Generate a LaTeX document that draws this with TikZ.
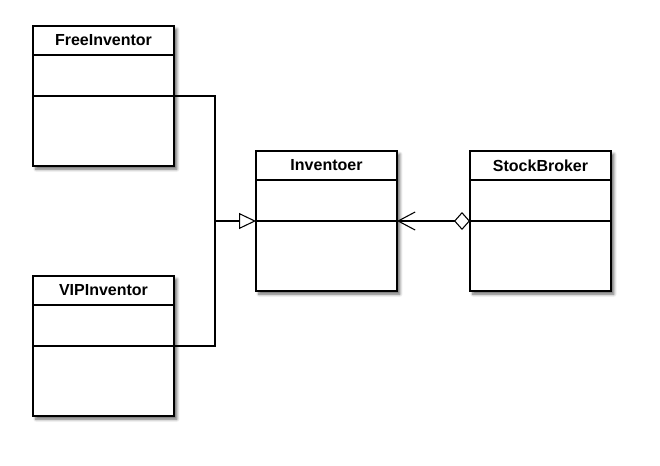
\documentclass[tikz,border=0pt]{standalone}
\usepackage{fontspec}
\setmainfont{Liberation Sans}
\usetikzlibrary{positioning}
\usetikzlibrary{arrows.meta}
\usetikzlibrary{shadows.blur}

\tikzset{
  classbox/.style={fill=white, inner sep=0cm, outer sep=0cm,
       minimum width=105.75pt, minimum height=105pt,
       blur shadow={shadow xshift=2.2pt, shadow yshift=-2.4pt,
                    shadow blur steps=6, shadow opacity=60}},
  part/.style={draw, line width=0.8pt, inner sep=0cm, outer sep=0cm,
       minimum width=105.75pt},
  classhead/.style={part, minimum height=21.75pt,
       font=\fontsize{12}{14}\selectfont\bfseries},
  classattr/.style={part, minimum height=30.75pt},
  classops/.style={part, minimum height=52.5pt},
  link/.style={line width=0.8pt},
}

\begin{document}
\begin{tikzpicture}[x=0.75pt, y=-0.75pt]

\useasboundingbox (0,0) rectangle (660,465);

% FreeInventor
\node[classbox] (free) at (103.5, 96) {};
\node[classhead, below=0cm of free.north] (freehead) {FreeInventor};
\node[classattr, below=0cm of freehead] (freeattr) {};
\node[classops, below=0cm of freeattr] (freeops) {};

% VIPInventor
\node[classbox] (vip) at (103.5, 346) {};
\node[classhead, below=0cm of vip.north] (viphead) {VIPInventor};
\node[classattr, below=0cm of viphead] (vipattr) {};
\node[classops, below=0cm of vipattr] (vipops) {};

% Inventoer
\node[classbox] (inv) at (326.5, 221) {};
\node[classhead, below=0cm of inv.north] (invhead) {Inventoer};
\node[classattr, below=0cm of invhead] (invattr) {};
\node[classops, below=0cm of invattr] (invops) {};

% StockBroker
\node[classbox] (stock) at (540.5, 221) {};
\node[classhead, below=0cm of stock.north] (stockhead) {StockBroker};
\node[classattr, below=0cm of stockhead] (stockattr) {};
\node[classops, below=0cm of stockattr] (stockops) {};

% generalisation
\coordinate (join) at (215, 221);
\draw[link] (freeattr.south east) -| (join);
\draw[link] (vipattr.south east) -| (join);
\draw[link, -{Triangle[open, fill=white, length=12.75pt, width=12pt]}]
  (join) -- (invattr.south west);

% aggregation
\draw[link, {Diamond[open, fill=white, length=12pt, width=13.5pt]}-{Straight Barb[length=12.75pt, width=13.5pt]}]
  (stockattr.south west) -- (invattr.south east);

\end{tikzpicture}
\end{document}
